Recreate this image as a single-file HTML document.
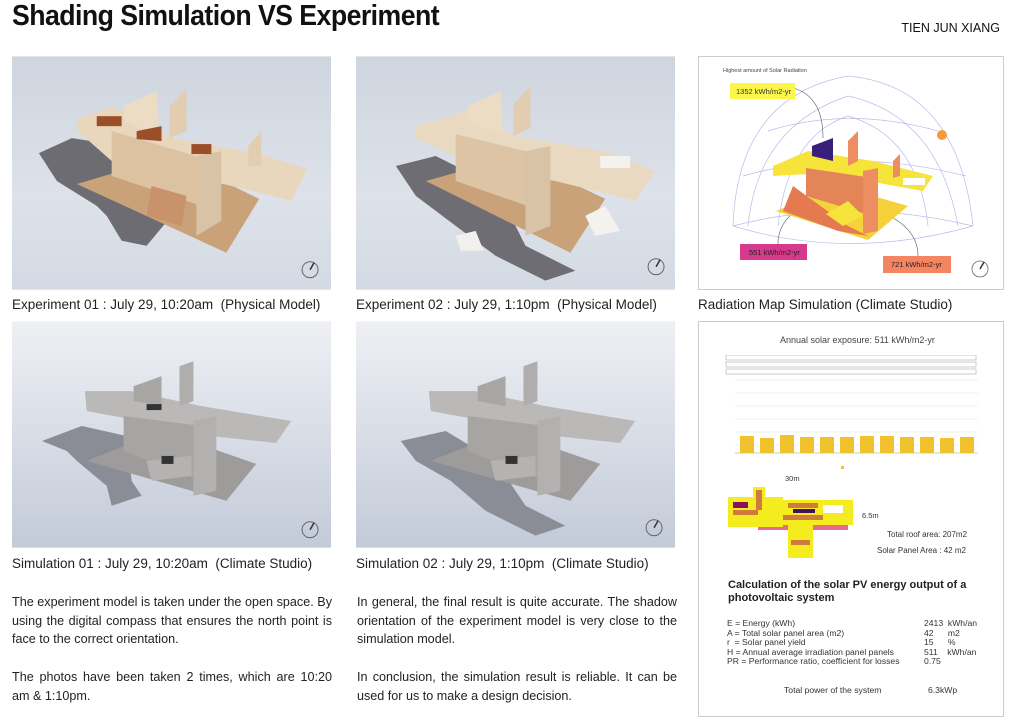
<!DOCTYPE html>
<html><head><meta charset="utf-8"><style>
*{margin:0;padding:0;box-sizing:border-box}
body{width:1024px;height:728px;background:#fff;position:relative;overflow:hidden;font-family:"Liberation Sans",sans-serif;color:#222}
.abs{position:absolute}
h1{position:absolute;left:12px;top:0px;font-size:29px;font-weight:bold;letter-spacing:-0.6px;transform:scaleX(0.92);transform-origin:left top;color:#111}
.cap{position:absolute;font-size:13.5px;color:#222;white-space:nowrap}
.txt{position:absolute;width:320px;font-size:12.6px;line-height:18.6px;text-align:justify;color:#222}
.panel{position:absolute;border:1px solid #ccc;background:#fff}
svg{display:block}
</style></head><body>
<h1>Shading Simulation VS Experiment</h1>
<div class="abs" style="right:24px;top:21px;font-size:12.5px;color:#111">TIEN JUN XIANG</div>

<!-- Experiment 01 -->
<svg class="abs" style="left:12px;top:56px" width="319" height="234" viewBox="0 0 320 234">
<defs><linearGradient id="bgp" x1="0" y1="0" x2="0" y2="1"><stop offset="0" stop-color="#cfd5de"/><stop offset="0.6" stop-color="#dde2ea"/><stop offset="1" stop-color="#d4dae3"/></linearGradient></defs>
<rect width="320" height="234" fill="url(#bgp)"/>
<polygon points="27,97 60,82 100,88 140,110 160,160 135,190 110,185 95,160 85,150 45,125" fill="#6d6c72"/>
<polygon points="65,128 160,100 248,143 215,197" fill="#c9a27a"/>
<polygon points="66,63 100,50 160,82 250,98 296,113 280,145 200,125 150,120 100,105 66,75" fill="#e9d7bd"/>
<polygon points="100,75 185,100 190,150 100,120" fill="#dcc2a0"/>
<polygon points="185,100 210,95 210,165 185,180" fill="#d8c3a6"/>
<polygon points="112,50 145,35 148,80 112,65" fill="#ecdcc4"/>
<polygon points="158,50 175,32 175,75 158,82" fill="#e2cdb0"/>
<polygon points="237,90 250,75 250,110 237,110" fill="#e2cdb0"/>
<rect x="85" y="60" width="25" height="10" fill="#9a4f28"/>
<rect x="180" y="88" width="20" height="10" fill="#9a4f28"/>
<polygon points="125,75 150,70 150,85 125,83" fill="#9a4f28"/>
<polygon points="140,130 175,140 170,170 135,160" fill="#c8926a"/>
<circle cx="299" cy="214" r="8" fill="none" stroke="#666" stroke-width="1"/><line x1="299" y1="214" x2="303" y2="207" stroke="#333" stroke-width="1.5"/>
</svg>
<div class="cap" style="left:12px;top:297px">Experiment 01 : July 29, 10:20am&nbsp; (Physical Model)</div>

<!-- Experiment 02 -->
<svg class="abs" style="left:356px;top:56px" width="319" height="234" viewBox="0 0 320 234">
<rect width="320" height="234" fill="url(#bgp)"/>
<polygon points="40,110 80,100 140,130 170,190 220,215 190,225 140,200 100,170 60,140" fill="#6e6d73"/>
<polygon points="70,125 160,100 250,143 215,197" fill="#c9a27a"/>
<polygon points="60,70 110,55 160,80 250,95 300,115 280,145 200,125 150,118 100,100 60,82" fill="#e9d9c0"/>
<polygon points="100,78 170,95 172,150 100,125" fill="#dcc4a4"/>
<polygon points="170,95 195,90 195,170 170,180" fill="#d8c3a6"/>
<polygon points="112,50 145,35 148,80 112,65" fill="#ecdcc4"/>
<polygon points="158,48 175,30 175,72 158,80" fill="#e2cdb0"/>
<rect x="245" y="100" width="30" height="12" fill="#f4f2ee"/>
<polygon points="230,160 250,150 265,175 240,180" fill="#f4f2ee"/>
<polygon points="100,180 120,175 128,195 105,195" fill="#f2f0ec"/>
<circle cx="301" cy="211" r="8" fill="none" stroke="#666" stroke-width="1"/><line x1="301" y1="211" x2="305" y2="204" stroke="#333" stroke-width="1.5"/>
</svg>
<div class="cap" style="left:356px;top:297px">Experiment 02 : July 29, 1:10pm&nbsp; (Physical Model)</div>

<!-- Simulation 01 -->
<svg class="abs" style="left:12px;top:321px" width="319" height="227" viewBox="0 0 320 227">
<defs><linearGradient id="bgs" x1="0" y1="0" x2="0" y2="1"><stop offset="0" stop-color="#eef0f4"/><stop offset="1" stop-color="#c3cad8"/></linearGradient></defs>
<rect width="320" height="227" fill="url(#bgs)"/>
<polygon points="30,120 70,105 115,115 120,160 130,175 100,185 95,165 65,140 55,130" fill="#8a8d96"/>
<polygon points="75,140 150,110 245,143 215,180" fill="#9e9c9b"/>
<polygon points="73,70 120,70 190,85 280,100 265,122 200,115 130,100 75,90" fill="#bbb9b7"/>
<polygon points="112,95 190,105 190,160 112,130" fill="#a7a5a3"/>
<polygon points="182,100 205,95 205,170 182,175" fill="#b3b1af"/>
<polygon points="122,65 150,55 150,85 122,80" fill="#a9a7a5"/>
<polygon points="168,45 182,40 182,80 168,85" fill="#b0aeac"/>
<polygon points="135,140 180,135 180,155 140,160" fill="#b5b3b1"/>
<rect x="150" y="135" width="12" height="8" fill="#333"/>
<rect x="135" y="83" width="15" height="6" fill="#333"/>
<circle cx="299" cy="209" r="8" fill="none" stroke="#666" stroke-width="1"/><line x1="299" y1="209" x2="303" y2="202" stroke="#333" stroke-width="1.5"/>
</svg>
<div class="cap" style="left:12px;top:556px">Simulation 01 : July 29, 10:20am&nbsp; (Climate Studio)</div>

<!-- Simulation 02 -->
<svg class="abs" style="left:356px;top:321px" width="319" height="227" viewBox="0 0 320 227">
<rect width="320" height="227" fill="url(#bgs)"/>
<polygon points="45,120 90,110 140,140 170,185 210,205 180,215 130,190 95,160 60,140" fill="#8a8d96"/>
<polygon points="75,140 150,110 245,143 215,180" fill="#9e9c9b"/>
<polygon points="73,70 120,70 190,85 280,100 265,122 200,115 130,100 75,90" fill="#bbb9b7"/>
<polygon points="112,95 190,105 190,160 112,130" fill="#a7a5a3"/>
<polygon points="182,100 205,95 205,170 182,175" fill="#b3b1af"/>
<polygon points="122,65 150,55 150,85 122,80" fill="#a9a7a5"/>
<polygon points="168,45 182,40 182,80 168,85" fill="#b0aeac"/>
<polygon points="135,140 180,135 180,155 140,160" fill="#b5b3b1"/>
<rect x="150" y="135" width="12" height="8" fill="#333"/>
<circle cx="299" cy="207" r="8" fill="none" stroke="#666" stroke-width="1"/><line x1="299" y1="207" x2="303" y2="200" stroke="#333" stroke-width="1.5"/>
</svg>
<div class="cap" style="left:356px;top:556px">Simulation 02 : July 29, 1:10pm&nbsp; (Climate Studio)</div>

<!-- Radiation map panel -->
<div class="panel" style="left:698px;top:56px;width:306px;height:234px"></div>
<svg class="abs" style="left:698px;top:56px" width="306" height="234" viewBox="0 0 306 234">
<g fill="none" stroke="#b9bce8" stroke-width="0.7">
<path d="M35,170 Q40,40 150,20 Q260,30 275,170"/>
<path d="M50,170 Q60,70 150,40 Q240,60 260,170"/>
<path d="M80,170 Q90,80 150,60 Q220,80 230,170"/>
<path d="M35,170 Q150,140 275,170"/><path d="M45,120 Q150,90 268,120"/><path d="M70,75 Q150,50 240,75"/>
<path d="M35,170 Q150,205 275,170"/>
</g>
<text x="25" y="16" font-size="5.5" fill="#444">Highest amount of Solar Radiation</text>
<path d="M95,32 Q125,40 125,82" fill="none" stroke="#555" stroke-width="0.6"/>
<path d="M80,188 Q80,160 115,145" fill="none" stroke="#555" stroke-width="0.6"/>
<path d="M220,200 Q220,170 180,155" fill="none" stroke="#555" stroke-width="0.6"/>
<polygon points="78,155 140,130 210,150 170,184" fill="#f5d23a"/>
<polygon points="95,130 150,170 170,180 140,175 85,155" fill="#e57a50"/>
<polygon points="75,110 110,95 175,105 235,120 225,135 170,125 110,118 75,120" fill="#f7e43a"/>
<polygon points="108,112 175,122 175,160 108,140" fill="#e38557"/>
<polygon points="165,115 180,112 180,175 165,178" fill="#ec8e62"/>
<polygon points="114,90 135,82 135,105 114,100" fill="#3a1f7a"/>
<polygon points="150,85 160,75 160,105 150,110" fill="#ec8e62"/>
<polygon points="195,105 202,98 202,120 195,122" fill="#ec8e62"/>
<polygon points="128,158 150,145 165,160 145,170" fill="#f7e43a"/>
<rect x="205" y="122" width="22" height="7" fill="#fff"/>
<circle cx="244" cy="79" r="5" fill="#f59b3a"/>
<rect x="32" y="27" width="65" height="16" fill="#fbf74a"/><text x="38" y="38" font-size="7.5" fill="#333">1352 kWh/m2-yr</text>
<rect x="42" y="188" width="67" height="16" fill="#d63a8c"/><text x="51" y="199" font-size="7.5" fill="#222">551 kWh/m2-yr</text>
<rect x="185" y="200" width="68" height="17" fill="#f58461"/><text x="193" y="211" font-size="7.5" fill="#222">721 kWh/m2-yr</text>
<circle cx="282" cy="213" r="8" fill="none" stroke="#666" stroke-width="0.8"/><line x1="282" y1="213" x2="286" y2="206" stroke="#333" stroke-width="1.5"/>
</svg>
<div class="cap" style="left:698px;top:297px">Radiation Map Simulation (Climate Studio)</div>

<!-- Solar panel -->
<div class="panel" style="left:698px;top:321px;width:306px;height:396px"></div>
<div class="abs" style="left:780px;top:335px;font-size:9px;color:#444">Annual solar exposure: 511 kWh/m2-yr</div>
<svg class="abs" style="left:723px;top:355px" width="256" height="120" viewBox="0 0 256 120">
<rect x="3" y="0" width="250" height="5" fill="#fff" stroke="#999" stroke-width="0.5"/>
<rect x="3" y="7" width="250" height="5" fill="#fff" stroke="#999" stroke-width="0.5"/>
<rect x="3" y="14" width="250" height="5" fill="#fff" stroke="#999" stroke-width="0.5"/>
<g stroke="#e3e3e3" stroke-width="0.5"><line x1="12" y1="25" x2="255" y2="25"/><line x1="12" y1="38" x2="255" y2="38"/><line x1="12" y1="51" x2="255" y2="51"/><line x1="12" y1="64" x2="255" y2="64"/><line x1="12" y1="77" x2="255" y2="77"/><line x1="12" y1="90" x2="255" y2="90"/></g>
<line x1="12" y1="98" x2="255" y2="98" stroke="#999" stroke-width="0.5"/>
<g fill="#f2c12e">
<rect x="17" y="81" width="14" height="17"/><rect x="37" y="83" width="14" height="15"/><rect x="57" y="80" width="14" height="18"/><rect x="77" y="82" width="14" height="16"/><rect x="97" y="82" width="14" height="16"/><rect x="117" y="82" width="14" height="16"/><rect x="137" y="81" width="14" height="17"/><rect x="157" y="81" width="14" height="17"/><rect x="177" y="82" width="14" height="16"/><rect x="197" y="82" width="14" height="16"/><rect x="217" y="83" width="14" height="15"/><rect x="237" y="82" width="14" height="16"/>
</g>
<rect x="118" y="111" width="3" height="3" fill="#f2c12e"/>
</svg>
<div class="abs" style="left:785px;top:474px;font-size:7.5px;color:#333">30m</div>
<svg class="abs" style="left:728px;top:485px" width="130" height="75" viewBox="0 0 130 75">
<rect x="30" y="20" width="90" height="25" fill="#e86a8a"/>
<polygon points="0,15 125,15 125,25 0,25" fill="#f5ec20"/>
<rect x="0" y="12" width="55" height="30" fill="#f5ec20"/>
<rect x="55" y="15" width="70" height="25" fill="#f5ec20"/>
<rect x="25" y="2" width="12" height="28" fill="#f5ec20"/><rect x="28" y="5" width="6" height="20" fill="#d07b3e"/>
<rect x="5" y="25" width="25" height="5" fill="#d07b3e"/><rect x="60" y="18" width="30" height="5" fill="#d07b3e"/><rect x="55" y="30" width="40" height="5" fill="#d07b3e"/>
<rect x="5" y="17" width="15" height="6" fill="#8a1060"/><rect x="65" y="24" width="22" height="4" fill="#4a1060"/>
<rect x="95" y="20" width="20" height="8" fill="#fff"/>
<rect x="60" y="38" width="25" height="35" fill="#f5ec20"/><rect x="63" y="55" width="19" height="5" fill="#d07b3e"/>
</svg>
<div class="abs" style="left:862px;top:511px;font-size:7.5px;color:#333">6.5m</div>
<div class="abs" style="left:887px;top:530px;font-size:8px;color:#333">Total roof area: 207m2</div>
<div class="abs" style="left:877px;top:546px;font-size:8px;color:#333">Solar Panel Area : 42 m2</div>
<div class="abs" style="left:728px;top:579px;width:260px;font-size:11px;font-weight:bold;line-height:13px;color:#222">Calculation of the solar PV energy output of a photovoltaic system</div>
<div class="abs" style="left:727px;top:619px;font-size:8.6px;line-height:9.6px;color:#333;white-space:nowrap">E = Energy (kWh)<br>A = Total solar panel area (m2)<br>r&nbsp; = Solar panel yield<br>H = Annual average irradiation panel panels<br>PR = Performance ratio, coefficient for losses</div>
<div class="abs" style="left:924px;top:619px;font-size:8.6px;line-height:9.6px;color:#333;white-space:nowrap">2413&nbsp; kWh/an<br>42&nbsp;&nbsp;&nbsp;&nbsp;&nbsp; m2<br>15&nbsp;&nbsp;&nbsp;&nbsp;&nbsp; %<br>511&nbsp;&nbsp;&nbsp; kWh/an<br>0.75</div>
<div class="abs" style="left:784px;top:685px;font-size:8.6px;color:#333">Total power of the system</div>
<div class="abs" style="left:928px;top:685px;font-size:8.6px;color:#333">6.3kWp</div>

<div class="txt" style="left:12px;top:593px">The experiment model is taken under the open space. By using the digital compass that ensures the north point is face to the correct orientation.</div>
<div class="txt" style="left:12px;top:668px">The photos have been taken 2 times, which are 10:20 am &amp; 1:10pm.</div>
<div class="txt" style="left:357px;top:593px">In general, the final result is quite accurate. The shadow orientation of the experiment model is very close to the simulation model.</div>
<div class="txt" style="left:357px;top:668px">In conclusion, the simulation result is reliable. It can be used for us to make a design decision.</div>
</body></html>
